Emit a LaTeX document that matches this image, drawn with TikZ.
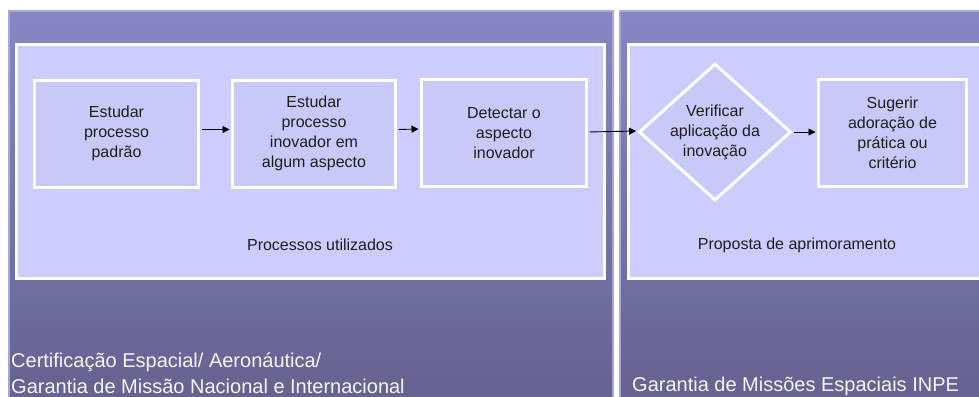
\documentclass[tikz,border=0pt]{standalone}
\usepackage{fontspec}
\setmainfont{Liberation Sans}
\usetikzlibrary{shapes.geometric,arrows.meta,shadows}
\definecolor{pantop}{HTML}{8986C6}
\definecolor{panbot}{HTML}{65628F}
\definecolor{panedge}{HTML}{A9A6DF}
\definecolor{innerfill}{HTML}{CCCCFF}
\definecolor{boxfill}{HTML}{C9C9F9}
\definecolor{txt}{HTML}{1E1E1E}
\definecolor{lowtxt}{HTML}{F4F4FA}
\begin{document}
\begin{tikzpicture}[x=1pt,y=-1pt,
  panel/.style={top color=pantop,bottom color=panbot,draw=panedge,line width=1.5pt},
  innerbox/.style={fill=innerfill,draw=white,line width=3pt},
  stepbox/.style={rectangle,draw=white,line width=3pt,fill=boxfill,text=txt,
    font=\fontsize{16}{20}\selectfont,align=center,inner sep=0pt,
    minimum height=107pt,
    drop shadow={shadow xshift=1.5pt,shadow yshift=-1.5pt,opacity=0.3}},
  decbox/.style={diamond,draw=white,line width=3pt,fill=boxfill,text=txt,
    font=\fontsize{16}{20}\selectfont,align=center,inner sep=0pt,aspect=1.1,
    minimum width=152pt,minimum height=137pt},
  arr/.style={draw=black,line width=0.9pt,-{Triangle[length=7pt,width=7pt]},
    shorten <=1.5pt,shorten >=1.5pt},
  lbl/.style={text=txt,font=\fontsize{16}{20}\selectfont,inner sep=0pt},
  lowlbl/.style={text=lowtxt,font=\fontsize{20}{26}\selectfont,inner sep=0pt,anchor=base west}
]
\useasboundingbox (0,0) rectangle (979,396);
\clip (0,0) rectangle (979,396);
% panels
\path[panel] (9,11) rectangle (613,402);
\path[panel] (620,11) rectangle (990,402);
\path[innerbox] (16.5,44.5) rectangle (604.5,278);
\path[innerbox] (628.5,44.5) rectangle (995,278);
% steps
\node[stepbox,minimum width=164pt] (b1) at (116.5,133.5) {Estudar\\processo\\padrão};
\node[stepbox,minimum width=163pt] (b2) at (314,133.5) {Estudar\\processo\\inovador em\\algum aspecto};
\node[stepbox,minimum width=165pt] (b3) at (504,133) {Detectar o\\aspecto\\inovador};
\node[decbox] (d4) at (715,132) {Verificar\\aplicação da\\inovação};
\node[stepbox,minimum width=148pt,minimum height=107pt] (b5) at (892.5,133) {Sugerir\\adoração de\\prática ou\\critério};
% arrows
\draw[arr] ([yshift=4pt]b1.east) -- ([yshift=4pt]b2.west);
\draw[arr] ([yshift=4pt]b2.east) -- ([yshift=4pt]b3.west);
\draw[arr] ([yshift=1pt]b3.east) -- ([yshift=1pt]d4.west);
\draw[arr] (d4.east) -- (d4.east -| b5.west);
% labels
\node[lbl] (l1) at (320,245) {Processos utilizados};
\node[lbl] (l2) at (797,245) {Proposta de aprimoramento};
\node[lowlbl] (c1) at (11,367) {Certificação Espacial/ Aeronáutica/};
\node[lowlbl] (c2) at (11,393) {Garantia de Missão Nacional e Internacional};
\node[lowlbl] (c3) at (632,391) {Garantia de Missões Espaciais INPE};
\end{tikzpicture}
\end{document}
